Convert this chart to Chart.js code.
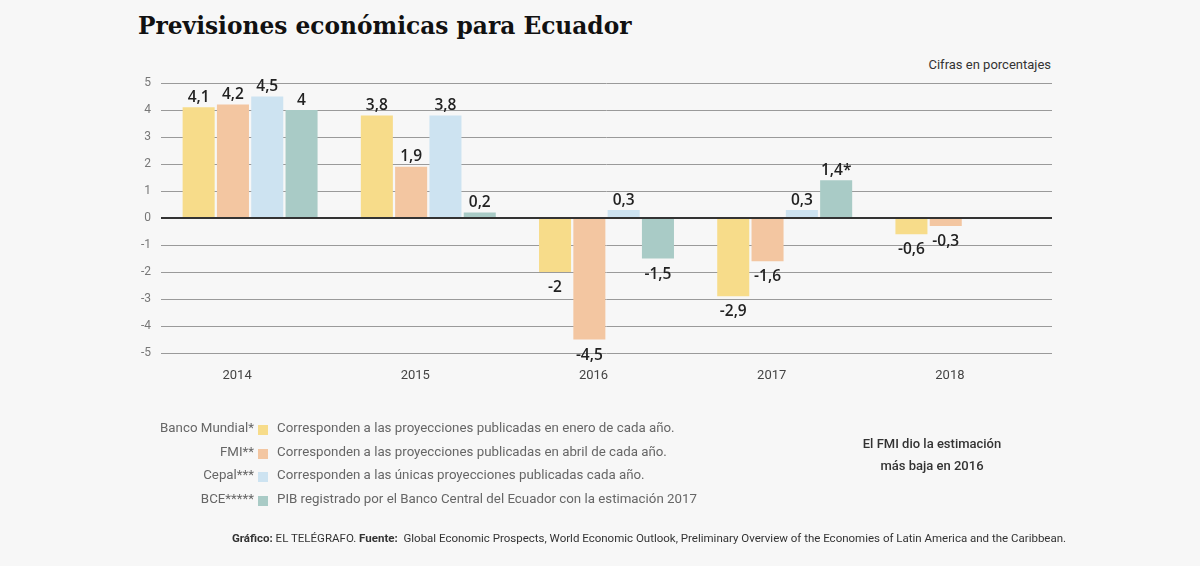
<!DOCTYPE html>
<html>
<head>
<meta charset="utf-8">
<script src="https://cdn.jsdelivr.net/npm/chart.js@4/dist/chart.umd.min.js"></script>
<style>
    html, body { margin: 0; padding: 0; background: #f7f7f7; }
    #wrap { position: relative; width: 1200px; height: 566px; background: #f7f7f7; overflow: hidden; }
    #chart { position: absolute; left: 0; top: 0; }
    .title { position: absolute; left: 138px; top: 12px; font: bold 23.3px "DejaVu Serif", serif; color: #111; white-space: nowrap; }
    .unit { position: absolute; right: 149px; top: 57px; font: 13px Roboto, sans-serif; color: #333; }
    .legend { position: absolute; left: 0; top: 420px; font: 13.3px Roboto, sans-serif; color: #666; }
    .legend .row { position: absolute; height: 20px; white-space: nowrap; }
    .legend .name { position: absolute; width: 150px; text-align: right; }
    .legend .box { position: absolute; width: 10px; height: 10px; top: 5px; }
    .legend .desc { position: absolute; white-space: nowrap; }
    .note { position: absolute; left: 832px; top: 433px; width: 200px; text-align: center; font: 500 13px Roboto, sans-serif; color: #333; line-height: 22px; }
    .footer { position: absolute; left: 232px; top: 531px; font: 11.5px Roboto, sans-serif; color: #333; white-space: nowrap; }
    .footer b { font-weight: bold; }
</style>
</head>
<body>
<div id="wrap">
    <div class="title">Previsiones económicas para Ecuador</div>
    <div class="unit">Cifras en porcentajes</div>
    <canvas id="chart" width="1200" height="566"></canvas>
    <div class="legend" id="legend"></div>
    <div class="note">El FMI dio la estimación<br>más baja en 2016</div>
    <div class="footer"><b>Gráfico:</b> EL TELÉGRAFO. <b>Fuente:</b>&nbsp; Global Economic Prospects, World Economic Outlook, Preliminary Overview of the Economies of Latin America and the Caribbean.</div>
</div>
<script>
const years = ['2014', '2015', '2016', '2017', '2018'];
const bancoMundial = [4.1, 3.8, -2, -2.9, -0.6];
const fmi = [4.2, 1.9, -4.5, -1.6, -0.3];
const cepal = [4.5, 3.8, 0.3, 0.3, null];
const bce = [4, 0.2, -1.5, 1.4, null];
const bceMarks = ['', '', '', '*', ''];
const yTicks = [5, 4, 3, 2, 1, 0, -1, -2, -3, -4, -5];

const seriesNames = ['Banco Mundial*', 'FMI**', 'Cepal***', 'BCE*****'];
const seriesNotes = [
    'Corresponden a las proyecciones publicadas en enero de cada año.',
    'Corresponden a las proyecciones publicadas en abril de cada año.',
    'Corresponden a las únicas proyecciones publicadas cada año.',
    'PIB registrado por el Banco Central del Ecuador con la estimación 2017'
];
const colors = ['#f7dc8a', '#f3c6a1', '#cde3f1', '#a9cbc6'];

// legend rows
const legend = document.getElementById('legend');
seriesNames.forEach((name, i) => {
    const row = document.createElement('div');
    row.className = 'row';
    row.style.top = (i * 23.5) + 'px';
    row.innerHTML = `
        <span class="name" style="left:104px">${name}</span>
        <span class="box" style="left:258px;background:${colors[i]}"></span>
        <span class="desc" style="left:277px">${seriesNotes[i]}</span>
    `;
    legend.appendChild(row);
});

const fmt = v => String(v).replace('.', ',');

const valueLabels = {
    id: 'valueLabels',
    afterDatasetsDraw(chart) {
        const ctx = chart.ctx;
        ctx.save();
        ctx.font = '600 15.5px "Open Sans", sans-serif';
        ctx.fillStyle = '#222';
        ctx.textAlign = 'center';
        chart.data.datasets.forEach((ds, di) => {
            const meta = chart.getDatasetMeta(di);
            meta.data.forEach((bar, i) => {
                const v = ds.data[i];
                if (v === null) return;
                let txt = fmt(v);
                if (di === 3) txt += bceMarks[i];
                if (v >= 0) {
                    ctx.textBaseline = 'bottom';
                    ctx.fillText(txt, bar.x, bar.y - 2);
                } else {
                    ctx.textBaseline = 'top';
                    ctx.fillText(txt, bar.x, bar.y + 8);
                }
            });
        });
        // category labels, shifted a bit left like the original
        const xs = chart.scales.x;
        ctx.font = '13px Roboto, sans-serif';
        ctx.fillStyle = '#444';
        ctx.textBaseline = 'middle';
        years.forEach((y, i) => {
            ctx.fillText(y, xs.getPixelForValue(i) - 13, 376);
        });
        ctx.restore();
    }
};

new Chart(document.getElementById('chart'), {
    type: 'bar',
    data: {
        labels: years,
        datasets: [bancoMundial, fmi, cepal, bce].map((d, i) => ({
            label: seriesNames[i],
            data: d,
            backgroundColor: colors[i],
            borderWidth: 0,
            barPercentage: 0.934,
            categoryPercentage: 0.77,
        }))
    },
    options: {
        responsive: false,
        animation: false,
        layout: { padding: { left: 131, right: 148, top: 83, bottom: 213 } },
        plugins: { legend: { display: false }, tooltip: { enabled: false } },
        scales: {
            x: {
                ticks: { display: false },
                grid: { display: false, drawTicks: false },
                border: { display: false },
            },
            y: {
                min: -5,
                max: 5,
                z: 1,
                afterFit(scale) { scale.width = 30; },
                afterBuildTicks(scale) { scale.ticks = yTicks.map(v => ({ value: v })); },
                ticks: {
                    padding: 10,
                    color: '#777',
                    font: { family: 'Roboto', size: 12 },
                    callback: v => String(v),
                },
                grid: {
                    drawTicks: false,
                    color: c => c.tick && c.tick.value === 0 ? '#333' : '#9a9a9a',
                    lineWidth: c => c.tick && c.tick.value === 0 ? 2 : 1,
                },
                border: { display: false },
            }
        }
    },
    plugins: [valueLabels]
});
</script>
</body>
</html>
